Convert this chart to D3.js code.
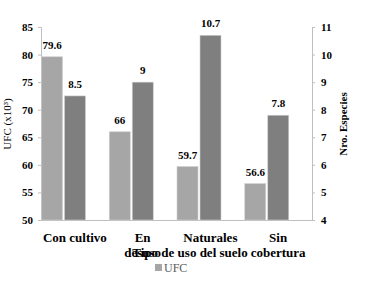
<!DOCTYPE html>
<html><head><meta charset="utf-8">
<script src="https://cdn.jsdelivr.net/npm/d3@7"></script>
<style>body{margin:0;background:#fff}svg{display:block}</style>
</head><body><svg id="c" width="376" height="281"></svg>
<script>
const categories = [["Con cultivo"], ["En", "desuso"], ["Naturales"], ["Sin", "cobertura"]];
const ufc = [79.6, 66, 59.7, 56.6];
const especies = [8.5, 9, 10.7, 7.8];
const leftTicks = [50, 55, 60, 65, 70, 75, 80, 85];
const rightTicks = [4, 5, 6, 7, 8, 9, 10, 11];

const FONT = "'Liberation Serif', 'Times New Roman', Tinos, 'DejaVu Serif', serif";
const svg = d3.select("#c");
const L = 41, R = 312, T = 27, B = 220;
const x = d3.scaleBand().domain(d3.range(categories.length)).range([L, R]).padding(0);
const yL = d3.scaleLinear().domain([50, 85]).range([B, T]);
const yR = d3.scaleLinear().domain([4, 11]).range([B, T]);
const bw = 21;

// axes
const axL = d3.axisLeft(yL).tickValues(leftTicks).tickSize(3).tickPadding(5).tickFormat(d3.format("d"));
const axR = d3.axisRight(yR).tickValues(rightTicks).tickSize(3).tickPadding(6).tickFormat(d3.format("d"));
const gL = svg.append("g").attr("transform", `translate(${L},0)`).call(axL);
const gR = svg.append("g").attr("transform", `translate(${R},0)`).call(axR);
[gL, gR].forEach(g => {
  g.attr("font-family", null);
  g.select(".domain").attr("stroke", "#bfbfbf");
  g.selectAll(".tick line").attr("stroke", "#bfbfbf");
  g.selectAll(".tick text").attr("font-size", 11).attr("font-weight", "bold").attr("fill", "#000");
});
svg.append("line").attr("x1", L).attr("x2", R).attr("y1", B + 0.5).attr("y2", B + 0.5).attr("stroke", "#bfbfbf");

// bars
svg.selectAll(".b1").data(ufc).join("rect")
  .attr("x", (d, i) => x(i) + 0.5).attr("width", bw)
  .attr("y", d => yL(d)).attr("height", d => B - yL(d))
  .attr("fill", "#a6a6a6").attr("stroke", "#d0d0d0").attr("stroke-width", 0.6);
svg.selectAll(".b2").data(especies).join("rect")
  .attr("x", (d, i) => x(i) + 23.5).attr("width", bw)
  .attr("y", d => yR(d)).attr("height", d => B - yR(d))
  .attr("fill", "#7f7f7f").attr("stroke", "#d0d0d0").attr("stroke-width", 0.6);

// value labels
svg.selectAll(".l1").data(ufc).join("text")
  .attr("x", (d, i) => x(i) + 0.5 + bw / 2).attr("y", d => yL(d) - 8)
  .attr("text-anchor", "middle").attr("font-size", 11).attr("font-weight", "bold").text(d => d);
svg.selectAll(".l2").data(especies).join("text")
  .attr("x", (d, i) => x(i) + 23.5 + bw / 2).attr("y", d => yR(d) - 8)
  .attr("text-anchor", "middle").attr("font-size", 11).attr("font-weight", "bold").text(d => d);

// category labels
categories.forEach((lines, i) => {
  lines.forEach((s, j) => {
    svg.append("text").attr("x", x(i) + x.bandwidth() / 2).attr("y", 242 + j * 15)
      .attr("text-anchor", "middle").attr("font-size", 13).attr("font-weight", "bold").text(s);
  });
});

// axis titles
svg.append("text").attr("transform", "translate(11,124) rotate(-90)").attr("text-anchor", "middle")
  .attr("font-size", 11).text("UFC (x10³)");
svg.append("text").attr("transform", "translate(347,124) rotate(-90)").attr("text-anchor", "middle")
  .attr("font-size", 11).attr("font-weight", "bold").text("Nro. Especies");
svg.append("text").attr("x", 190).attr("y", 257).attr("text-anchor", "middle")
  .attr("font-size", 13).attr("font-weight", "bold").text("Tipo de uso del suelo");

// legend
svg.append("rect").attr("x", 155).attr("y", 264).attr("width", 7).attr("height", 7).attr("fill", "#a6a6a6");
svg.append("text").attr("x", 164).attr("y", 272).attr("font-size", 12).attr("fill", "#595959").text("UFC");

svg.selectAll("text").style("font-family", FONT);
</script></body></html>
